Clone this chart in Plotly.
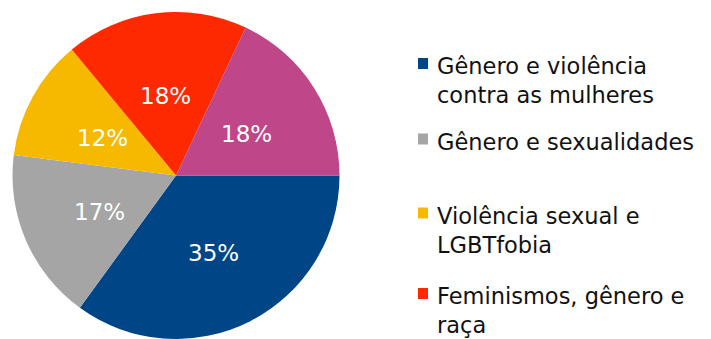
import math
import plotly.graph_objects as go

# ---- data ----
categories = [
    "Gênero e violência contra as mulheres",
    "Gênero e sexualidades",
    "Violência sexual e LGBTfobia",
    "Feminismos, gênero e raça",
    "Outros",
]
legend_lines = [
    "Gênero e violência<br>contra as mulheres",
    "Gênero e sexualidades",
    "Violência sexual e<br>LGBTfobia",
    "Feminismos, gênero e<br>raça",
]
values = [35, 17, 12, 18, 18]

# ---- style / layout ----
colors = ["#004586", "#a5a5a5", "#f7b800", "#ff2900", "#c0468a"]
W, H = 711, 339
FONT = "DejaVu Sans"
cx_px, R_px = 176.0, 163.5
cy_px = H - R_px

fig = go.Figure()
fig.add_trace(go.Pie(
    labels=categories,
    values=values,
    sort=False,
    direction="clockwise",
    rotation=90,
    marker=dict(colors=colors, line=dict(width=0)),
    textinfo="none",
    hoverinfo="label+percent",
    showlegend=False,
    domain=dict(x=[(cx_px - R_px) / W, (cx_px + R_px) / W], y=[0, 2 * R_px / H]),
))

annotations = []
shapes = []

# percentage labels at half radius along each slice's mid angle
total = sum(values)
cum = 0
for v in values:
    mid = (cum + v / 2) / total * 2 * math.pi
    cum += v
    r = 0.51 * R_px
    px = cx_px + r * math.cos(mid)
    py = cy_px + r * math.sin(mid)
    annotations.append(dict(
        x=px / W, y=1 - py / H, xref="paper", yref="paper",
        text=f"{round(v / total * 100)}%", showarrow=False,
        xanchor="center", yanchor="middle", yshift=-3,
        font=dict(family=FONT, size=23, color="white"),
    ))

# legend (first four entries visible; the rest falls below the crop)
legend_baselines = [73, 148.5, 222.5, 303]
FS = 22.5
sq = 11
for i, (txt, base) in enumerate(zip(legend_lines, legend_baselines)):
    sy = base - 9.5
    shapes.append(dict(
        type="rect", xref="paper", yref="paper",
        x0=418 / W, x1=(418 + sq - 1) / W,
        y0=1 - (sy + sq / 2) / H, y1=1 - (sy - sq / 2) / H,
        fillcolor=colors[i], line=dict(width=0),
    ))
    annotations.append(dict(
        x=435 / W, y=1 - (base - 0.928 * FS - 1) / H, xref="paper", yref="paper",
        text=txt, showarrow=False, align="left",
        xanchor="left", yanchor="top",
        font=dict(family=FONT, size=FS, color="#111111"),
    ))

fig.update_layout(
    width=W, height=H,
    margin=dict(l=0, r=0, t=0, b=0),
    paper_bgcolor="white", plot_bgcolor="white",
    annotations=annotations, shapes=shapes,
)

fig.write_html("out.html")
